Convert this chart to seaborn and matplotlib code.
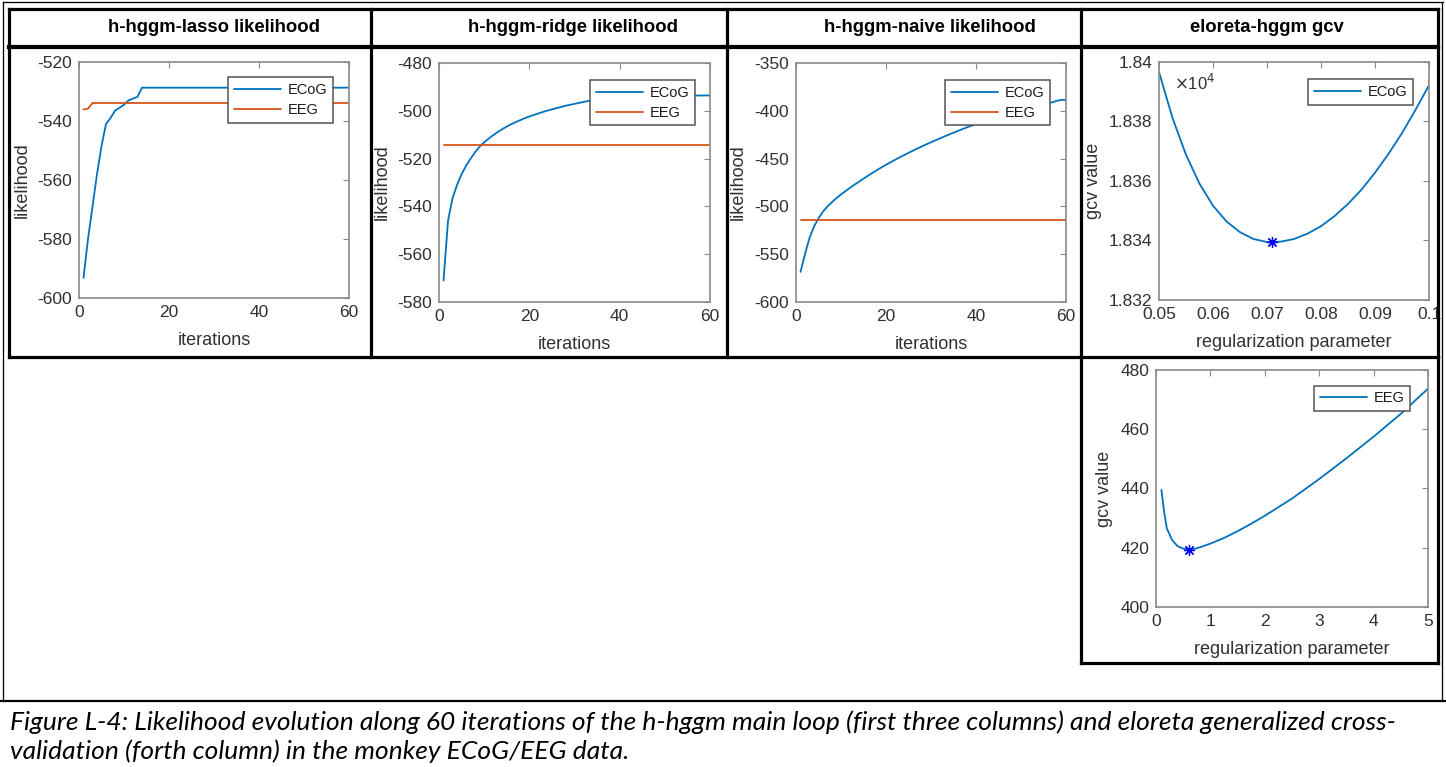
import matplotlib
matplotlib.use("Agg")
import matplotlib.pyplot as plt
from matplotlib.lines import Line2D
import numpy as np
import seaborn as sns

# ---------------------------------------------------------------- data
iterations = list(range(1, 61))

lasso_ecog = [-593.2, -580.0, -569.0, -558.0, -548.5, -541.0, -539.0, -536.5,
              -535.5, -534.5, -533.0, -532.4, -531.8] + [-528.7] * 47
lasso_eeg = [-536.1, -535.8] + [-533.9] * 58

ridge_ecog = [-571.0, -546.0, -536.5, -531.0, -526.5, -523.0, -520.0, -517.3,
              -515.0, -513.2, -511.6, -510.2, -508.9, -507.7, -506.6, -505.6,
              -504.7, -503.9, -503.1, -502.4, -501.7, -501.1, -500.5, -499.9,
              -499.4, -498.9, -498.4, -497.9, -497.5, -497.1, -496.7, -496.3,
              -495.9, -495.6, -495.3, -495.1, -494.9, -494.7, -494.5, -494.4,
              -494.3, -494.2, -494.1, -494.0, -493.95, -493.9, -493.85, -493.8,
              -493.78, -493.75, -493.72, -493.7, -493.68, -493.66, -493.64,
              -493.62, -493.6, -493.6, -493.58, -493.57]
ridge_eeg = [-514.5] * 60

naive_ecog = [-568.5, -550.0, -533.0, -521.0, -512.5, -505.5, -500.0, -495.5,
              -491.3, -487.5, -484.0, -480.6, -477.3, -474.2, -471.0, -467.9,
              -464.9, -462.0, -459.2, -456.5, -453.9, -451.3, -448.8, -446.4,
              -444.0, -441.7, -439.4, -437.2, -435.0, -432.9, -430.8, -428.8,
              -426.8, -424.8, -422.9, -421.0, -419.1, -417.3, -415.5, -413.7,
              -412.2, -410.7, -409.2, -407.8, -406.4, -405.0, -403.6, -402.2,
              -400.9, -399.6, -398.3, -397.0, -395.8, -394.6, -393.4, -392.2,
              -391.0, -389.5, -388.6, -388.5]
naive_eeg = [-514.3] * 60

ecog_lambda = [0.05, 0.0525, 0.055, 0.0575, 0.06, 0.0625, 0.065, 0.0675, 0.07,
               0.0725, 0.075, 0.0775, 0.08, 0.0825, 0.085, 0.0875, 0.09,
               0.0925, 0.095, 0.0975, 0.1]
ecog_gcv = [18396.6, 18381.2, 18368.8, 18359.1, 18351.7, 18346.4, 18342.8,
            18340.5, 18339.5, 18339.6, 18340.5, 18342.3, 18344.8, 18348.2,
            18352.3, 18357.1, 18362.8, 18369.1, 18376.1, 18383.9, 18392.2]
ecog_opt = (0.071, 18339.4)

eeg_lambda = [0.1, 0.15, 0.2, 0.3, 0.4, 0.5, 0.6, 0.7, 0.8, 1.0, 1.25, 1.5,
              1.75, 2.0, 2.5, 3.0, 3.5, 4.0, 4.5, 5.0]
eeg_gcv = [439.5, 432.0, 426.5, 422.5, 420.5, 419.7, 419.4, 419.6, 420.1,
           421.4, 423.3, 425.6, 428.1, 430.8, 436.6, 443.2, 450.2, 457.5,
           465.2, 473.7]
eeg_opt = (0.6, 419.4)

titles = ["h-hggm-lasso likelihood", "h-hggm-ridge likelihood",
          "h-hggm-naive likelihood", "eloreta-hggm gcv"]
caption = ["Figure L-4: Likelihood evolution along 60 iterations of the h-hggm main loop "
           "(first three columns) and eloreta generalized cross-",
           "validation (forth column) in the monkey ECoG/EEG data."]

# ---------------------------------------------------------------- style
sns.set_style("white")
plt.rcParams["font.family"] = ["Liberation Sans", "DejaVu Sans"]
plt.rcParams["axes.unicode_minus"] = False

BLUE = "#0072BD"
ORANGE = "#D95319"
SPINE = "#8a8a8a"
TXT = "#303030"

W, H = 1446, 767
fig = plt.figure(figsize=(W / 100, H / 100), dpi=100)
fig.patch.set_facecolor("white")


def rect(l, t, r, b):
    return [l / W, 1 - b / H, (r - l) / W, (b - t) / H]


def style(ax, xlim, ylim, xticks, yticks, xlabel, ylabel, xtl=None, ytl=None):
    ax.set_xlim(*xlim)
    ax.set_ylim(*ylim)
    ax.set_xticks(xticks)
    ax.set_yticks(yticks)
    if xtl is not None:
        ax.set_xticklabels(xtl)
    if ytl is not None:
        ax.set_yticklabels(ytl)
    for sp in ax.spines.values():
        sp.set_visible(True)
        sp.set_color(SPINE)
        sp.set_linewidth(1.2)
    ax.tick_params(direction="in", length=4, width=0.8, color=SPINE,
                   top=True, right=True, labelsize=12.5, labelcolor=TXT, pad=5)
    ax.set_xlabel(xlabel, fontsize=13, color=TXT, labelpad=9)
    ax.set_ylabel(ylabel, fontsize=13, color=TXT, labelpad=5)


def legend(ax, anchor):
    leg = ax.legend(loc="upper right", bbox_to_anchor=anchor, frameon=True,
                    fancybox=False, edgecolor="#555555", framealpha=1,
                    fontsize=10.5, handlelength=3.2, borderpad=0.4,
                    labelspacing=0.4, handletextpad=0.45, borderaxespad=0)
    leg.get_frame().set_linewidth(1.1)
    for t in leg.get_texts():
        t.set_color("#1a1a1a")
    return leg


LW = 1.3

# panel 1 - lasso
ax1 = fig.add_axes(rect(79, 62, 349, 298))
sns.lineplot(x=iterations, y=lasso_ecog, ax=ax1, color=BLUE, lw=LW, label="ECoG")
sns.lineplot(x=iterations, y=lasso_eeg, ax=ax1, color=ORANGE, lw=LW, label="EEG")
style(ax1, (0, 60), (-600, -520), [0, 20, 40, 60], [-600, -580, -560, -540, -520],
      "iterations", "likelihood")
legend(ax1, (0.941, 0.936))

# panel 2 - ridge
ax2 = fig.add_axes(rect(439, 63, 710, 302))
sns.lineplot(x=iterations, y=ridge_ecog, ax=ax2, color=BLUE, lw=LW, label="ECoG")
sns.lineplot(x=iterations, y=ridge_eeg, ax=ax2, color=ORANGE, lw=LW, label="EEG")
style(ax2, (0, 60), (-580, -480), [0, 20, 40, 60],
      [-580, -560, -540, -520, -500, -480], "iterations", "likelihood")
legend(ax2, (0.945, 0.929))

# panel 3 - naive
ax3 = fig.add_axes(rect(796, 63, 1066, 302))
sns.lineplot(x=iterations, y=naive_ecog, ax=ax3, color=BLUE, lw=LW, label="ECoG")
sns.lineplot(x=iterations, y=naive_eeg, ax=ax3, color=ORANGE, lw=LW, label="EEG")
style(ax3, (0, 60), (-600, -350), [0, 20, 40, 60],
      [-600, -550, -500, -450, -400, -350], "iterations", "likelihood")
legend(ax3, (0.941, 0.929))

# panel 4 - ECoG gcv
ax4 = fig.add_axes(rect(1159, 62, 1429, 300))
sns.lineplot(x=ecog_lambda, y=ecog_gcv, ax=ax4, color=BLUE, lw=LW, label="ECoG")
ax4.plot([ecog_opt[0]], [ecog_opt[1]], linestyle="none", marker=(8, 2, 0),
         markersize=8, color="blue", markeredgewidth=0.9)
yt4 = [18320, 18340, 18360, 18380, 18400]
style(ax4, (0.05, 0.1), (18320, 18400), [0.05, 0.06, 0.07, 0.08, 0.09, 0.1], yt4,
      "regularization parameter", "gcv value",
      xtl=["0.05", "0.06", "0.07", "0.08", "0.09", "0.1"],
      ytl=["1.832", "1.834", "1.836", "1.838", "1.84"])
ax4.text(0.055, 0.91, r"$\times$10$^4$", transform=ax4.transAxes, fontsize=12,
         color=TXT, ha="left", va="center")
legend(ax4, (0.941, 0.929))

# panel 5 - EEG gcv
ax5 = fig.add_axes(rect(1156, 370, 1428, 607))
sns.lineplot(x=eeg_lambda, y=eeg_gcv, ax=ax5, color=BLUE, lw=LW, label="EEG")
ax5.plot([eeg_opt[0]], [eeg_opt[1]], linestyle="none", marker=(8, 2, 0),
         markersize=8, color="blue", markeredgewidth=0.9)
style(ax5, (0, 5), (400, 480), [0, 1, 2, 3, 4, 5], [400, 420, 440, 460, 480],
      "regularization parameter", "gcv value")
legend(ax5, (0.934, 0.934))

# ---------------------------------------------------------------- table frame


def fline(x0, y0, x1, y1, px):
    fig.add_artist(Line2D([x0 / W, x1 / W], [1 - y0 / H, 1 - y1 / H],
                          transform=fig.transFigure, color="black",
                          lw=px * 0.72, solid_capstyle="projecting"))


THICK = 3.2
THIN = 1.3
# outer thin frame
fline(3, 2, 1443, 2, THIN)
fline(3, 2, 3, 701, THIN)
fline(1442, 2, 1442, 701, THIN)
# header and first row cells
fline(9, 9, 1438, 9, THICK)
fline(9, 47, 1438, 47, THICK + 1)
fline(9, 357, 1438, 357, THICK)
for xv in [9, 371, 727, 1081, 1438]:
    fline(xv, 9, xv, 357, THICK)
# second row cell for the EEG gcv panel
fline(1081, 357, 1081, 663, THICK)
fline(1438, 357, 1438, 663, THICK)
fline(1081, 663, 1438, 663, THICK)
# caption rule
fline(0, 701, 1446, 701, 2.2)

for cx, t in zip([214, 573, 930, 1267], titles):
    fig.text(cx / W, 1 - 27 / H, t, ha="center", va="center",
             fontsize=13.3, fontweight="bold", color="black")

for i, line in enumerate(caption):
    fig.text(10 / W, 1 - (722 + 29 * i) / H, line, ha="left", va="center",
             fontsize=19, style="italic", color="black",
             family=["Lato", "DejaVu Sans"])

fig.savefig("out.png", dpi=100, facecolor="white")
